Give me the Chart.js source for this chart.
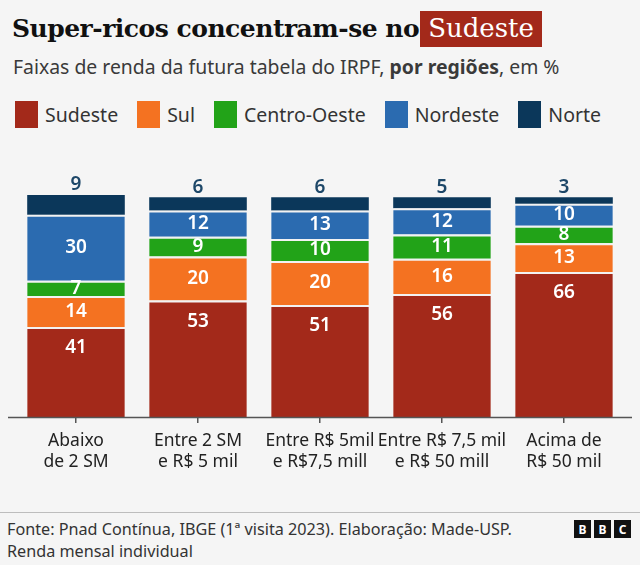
<!DOCTYPE html>
<html>
<head>
<meta charset="utf-8">
<script src="https://cdn.jsdelivr.net/npm/chart.js@4.4.1/dist/chart.umd.min.js"></script>
<style>
  body { margin: 0; background: #f5f5f5; font-family: "Noto Sans", sans-serif; color: #222; }
  #page { position: relative; width: 640px; height: 565px; overflow: hidden; }
  .title { position: absolute; left: 12px; top: 13px; font-family: "DejaVu Serif", serif; font-weight: bold; font-size: 25px; color: #111; white-space: nowrap; letter-spacing: -0.5px; }
  .title span { background: #a3291a; color: #fff; font-weight: normal; font-size: 26px; padding: 2px 8px 4px 8px; margin-left: 1px; letter-spacing: 0; }
  .subtitle { position: absolute; left: 13px; top: 53px; font-size: 19.4px; color: #3a3a3a; white-space: nowrap; }
  .legend { position: absolute; left: 15px; top: 101px; display: flex; font-size: 19.5px; color: #333; }
  .legend div { display: flex; align-items: center; margin-right: 19px; }
  .legend i { display: inline-block; width: 23px; height: 27px; margin-right: 7px; }
  #wrap { position: absolute; left: 0; top: 170px; width: 640px; height: 320px; }
  .rule { position: absolute; left: 0; top: 512px; width: 640px; height: 1px; background: #bdbdbd; }
  .foot { position: absolute; left: 7px; top: 518px; font-size: 16.2px; line-height: 22px; color: #333; }
  .bbc { position: absolute; right: 9px; top: 520px; display: flex; }
  .bbc b { width: 17px; height: 18px; background: #111; color: #fff; font: bold 12px "Noto Sans", sans-serif; display: flex; align-items: center; justify-content: center; margin-left: 3px; }
</style>
</head>
<body>
<div id="page">
  <div class="title">Super-ricos concentram-se no<span>Sudeste</span></div>
  <div class="subtitle">Faixas de renda da futura tabela do IRPF, <b>por regiões</b>, em %</div>
  <div class="legend" id="legend"></div>
  <div id="wrap"><canvas id="myChart"></canvas></div>
  <div class="rule"></div>
  <div class="foot">Fonte: Pnad Contínua, IBGE (1ª visita 2023). Elaboração: Made-USP.<br>Renda mensal individual</div>
  <div class="bbc"><b>B</b><b>B</b><b>C</b></div>
</div>
<script>
const categories = [
    ["Abaixo", "de 2 SM"],
    ["Entre 2 SM", "e R$ 5 mil"],
    ["Entre R$ 5mil", "e R$7,5 mill"],
    ["Entre R$ 7,5 mil", "e R$ 50 mill"],
    ["Acima de", "R$ 50 mil"]
];
const regions = ["Sudeste", "Sul", "Centro-Oeste", "Nordeste", "Norte"];
const sudeste = [41, 53, 51, 56, 66];
const sul = [14, 20, 20, 16, 13];
const centroOeste = [7, 9, 10, 11, 8];
const nordeste = [30, 12, 13, 12, 10];
const norte = [9, 6, 6, 5, 3];
const colors = ["#a3291a", "#f47221", "#22a318", "#2b6bb0", "#0b375a"];

const series = [sudeste, sul, centroOeste, nordeste, norte];

const legend = document.getElementById("legend");
regions.forEach((name, i) => {
    const item = document.createElement("div");
    item.innerHTML = '<i style="background:' + colors[i] + '"></i>' + name;
    legend.appendChild(item);
});

// value labels: Norte above the bar, Sudeste near its top, the rest centred
const valueLabels = {
    id: "valueLabels",
    afterDatasetsDraw(chart) {
        const c = chart.ctx;
        c.save();
        c.textAlign = "center";
        c.textBaseline = "middle";
        c.font = "600 19px 'Noto Sans', sans-serif";
        chart.data.datasets.forEach((ds, i) => {
            chart.getDatasetMeta(i).data.forEach((bar, j) => {
                let y = (bar.y + bar.base) / 2;
                c.fillStyle = "#ffffff";
                if (i === 4) {
                    y = bar.y - 10;
                    c.fillStyle = "#1d4768";
                } else if (i === 0) {
                    y = bar.y + 21;
                }
                c.fillText(ds.data[j], bar.x, y);
            });
        });
        c.restore();
    }
};

// axis line running a little past the bars
const baseLine = {
    id: "baseLine",
    afterDraw(chart) {
        const c = chart.ctx;
        const y = chart.chartArea.bottom + 0.5;
        c.save();
        c.strokeStyle = "#555";
        c.lineWidth = 1.5;
        c.beginPath();
        c.moveTo(8, y);
        c.lineTo(632, y);
        c.stroke();
        c.restore();
    }
};

new Chart(document.getElementById("myChart"), {
    type: "bar",
    data: {
        labels: categories,
        datasets: regions.map((name, i) => ({
            label: name,
            data: series[i],
            backgroundColor: colors[i],
            borderColor: "#f2f2f2",
            borderWidth: { top: i === 4 ? 0 : 2, bottom: 0, left: 0, right: 0 },
            borderSkipped: false,
            barPercentage: 0.8,
            categoryPercentage: 1
        }))
    },
    options: {
        responsive: true,
        maintainAspectRatio: false,
        animation: false,
        layout: { padding: { top: 25, bottom: 9, left: 15, right: 15 } },
        scales: {
            x: {
                stacked: true,
                border: { display: false },
                grid: { drawOnChartArea: false, offset: false, tickLength: 6, color: "#555", lineWidth: 1.5 },
                ticks: { color: "#222", padding: 8, autoSkip: false, font: { family: "'Noto Sans', sans-serif", size: 17.5 }, maxRotation: 0 }
            },
            y: {
                stacked: true,
                display: false,
                min: 0,
                max: 101
            }
        },
        plugins: {
            legend: { display: false },
            tooltip: { enabled: false }
        }
    },
    plugins: [valueLabels, baseLine]
});
</script>
</body>
</html>
